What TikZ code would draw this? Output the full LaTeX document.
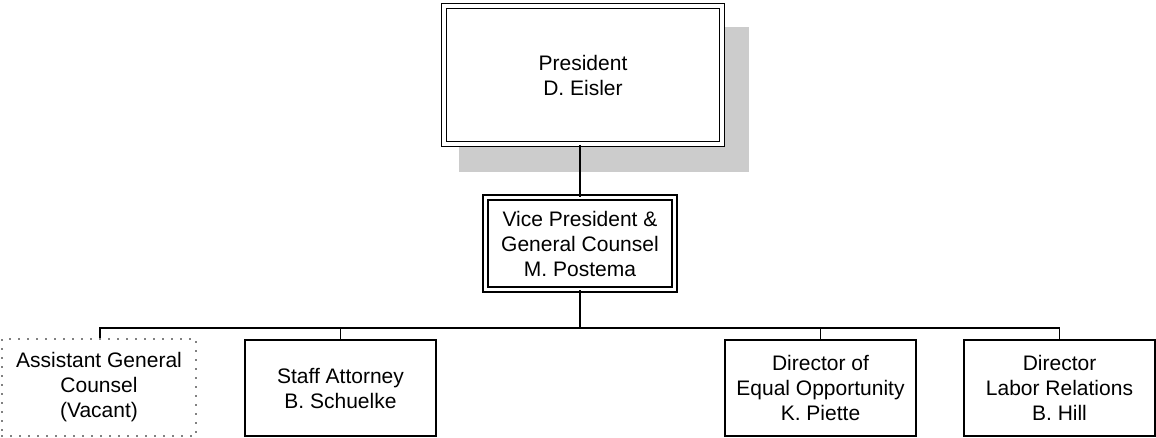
\documentclass[tikz,border=0pt]{standalone}
\usepackage{fontspec}
\setmainfont{Liberation Sans}
\tikzset{
  post/.style = {
    draw, line width=1.8pt, inner sep=0pt, align=center,
    minimum width=191pt, minimum height=96pt,
    font=\fontsize{21}{25}\selectfont
  },
  head/.style = {post, double, line width=1.6pt, double distance=3.3pt},
  vacant/.style = {post, draw=black, line width=1.8pt, line cap=round, dash pattern=on 0pt off 9pt},
  wire/.style = {line width=1.7pt}
}

\begin{document}
\begin{tikzpicture}[x=1pt,y=-1pt]
  \useasboundingbox (0,0) rectangle (1156,437);
  \fill[black!20] (459,27) rectangle (749,172);
  \node[head,fill=white,minimum width=278pt,minimum height=138pt] (pres) at (583,75) {President\\D. Eisler};
  \node[head,minimum width=189pt,minimum height=92pt] (vp) at (580,243.5) {Vice President \&\\General Counsel\\M. Postema};
  \node[vacant,minimum width=194pt,minimum height=97pt] (agc) at (99,387.5) {Assistant General\\Counsel\\(Vacant)};
  \node[post] (staff) at (340.5,388) {Staff Attorney\\B. Schuelke};
  \node[post] (eeo) at (820.5,388) {Director of\\Equal Opportunity\\K. Piette};
  \node[post] (labor) at (1059.5,388) {Director\\Labor Relations\\B. Hill};
  \draw[wire] (vp.north |- pres.south) -- (vp.north);
  \draw[wire] (vp.south) -- ++(0,37.5) coordinate (bus);
  \draw[wire] (agc.north -| 100,0) |- (bus) -| (labor.north);
  \foreach \N in {staff,eeo} {
    \draw[wire] (\N.north) -- (\N.north |- bus);
  }
\end{tikzpicture}
\end{document}
